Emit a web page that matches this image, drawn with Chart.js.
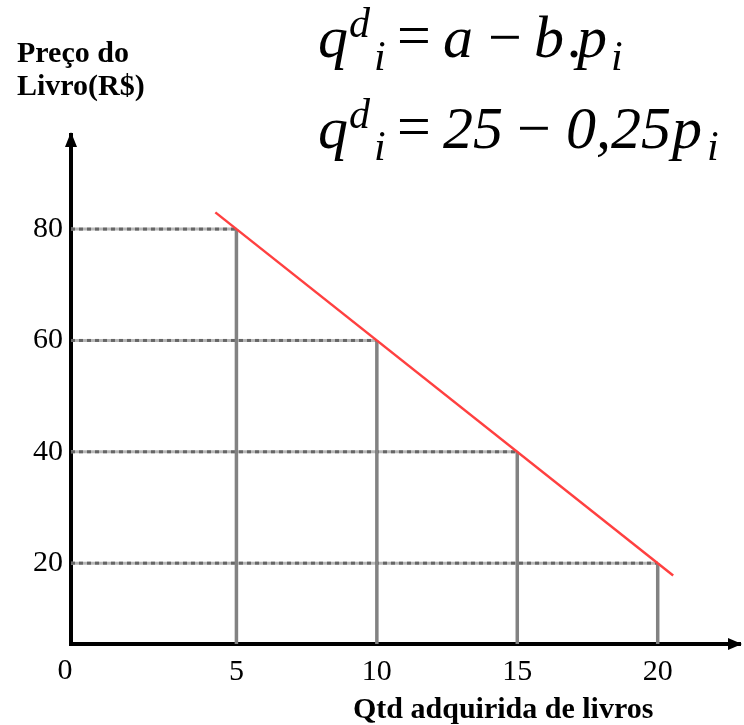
<!DOCTYPE html>
<html>
<head>
<meta charset="utf-8">
<script src="https://cdn.jsdelivr.net/npm/chart.js@4.4.1/dist/chart.umd.min.js"></script>
<style>
  html, body { margin: 0; padding: 0; background: #fff; }
  canvas { display: block; }
</style>
</head>
<body>
<canvas id="demanda" width="744" height="725"></canvas>
<script>
// Dados
const qtd = [5, 10, 15, 20];          // quantidade adquirida
const preco = [80, 60, 40, 20];       // preço do livro (R$)
const demandaQ = [4.25, 20.55];       // extremos da reta de demanda
const demandaP = [83, 17.8];
const xTicks = [5, 10, 15, 20];
const yTicks = [20, 40, 60, 80];

// limites dos eixos (a origem desenhada não coincide com zero)
const xMin = -0.89, xMax = 22.93;
const yMin = 5.48, yMax = 96.9;

const SERIF = '"Liberation Serif", "Times New Roman", serif';

// linhas de chamada: verticais até o eixo x, tracejadas até o eixo y
const verticais = qtd.map((q, i) => ({
    data: [{ x: q, y: yMin }, { x: q, y: preco[i] }],
    borderColor: '#828282',
    borderWidth: 3.5
}));
const horizFundo = qtd.map((q, i) => ({
    data: [{ x: xMin, y: preco[i] }, { x: q, y: preco[i] }],
    borderColor: '#b8b8b8',
    borderWidth: 3
}));
const horizTraco = qtd.map((q, i) => ({
    data: [{ x: xMin, y: preco[i] }, { x: q, y: preco[i] }],
    borderColor: '#666666',
    borderWidth: 3,
    borderDash: [4, 4]
}));

const reta = {
    data: demandaQ.map((q, i) => ({ x: q, y: demandaP[i] })),
    borderColor: 'rgb(255, 64, 64)',
    borderWidth: 2.5
};

// textos: equações, títulos dos eixos, setas
const textos = {
    id: 'textos',
    afterDraw(chart) {
        const ctx = chart.ctx;
        const area = chart.chartArea;
        ctx.save();
        ctx.fillStyle = '#000';
        ctx.textAlign = 'left';
        ctx.textBaseline = 'alphabetic';

        // setas dos eixos
        ctx.beginPath();
        ctx.moveTo(area.left, area.top - 3);
        ctx.lineTo(area.left - 6, area.top + 12);
        ctx.lineTo(area.left + 6, area.top + 12);
        ctx.closePath();
        ctx.fill();
        ctx.beginPath();
        ctx.moveTo(area.right + 2, area.bottom);
        ctx.lineTo(area.right - 12, area.bottom - 6);
        ctx.lineTo(area.right - 12, area.bottom + 6);
        ctx.closePath();
        ctx.fill();

        // títulos
        ctx.font = 'bold 30px ' + SERIF;
        ctx.fillText('Preço do', 17, 62);
        ctx.fillText('Livro(R$)', 17, 95);
        ctx.fillText('Qtd adquirida de livros', 353, 718);

        // origem
        ctx.font = '30px ' + SERIF;
        ctx.textAlign = 'center';
        ctx.fillText('0', 65, 679);
        ctx.textAlign = 'left';

        // equações
        const linha = (base, partes) => {
            partes.forEach(([t, x, dy, size, reto]) => {
                ctx.font = (reto ? '' : 'italic ') + size + 'px ' + SERIF;
                ctx.fillText(t, x, base + dy);
            });
        };
        linha(57, [
            ['q', 318, 0, 60], ['d', 349, -20, 42], ['i', 374, 13, 42],
            ['=', 397, -2, 60, true], ['a', 443, 0, 60], ['\u2212', 488, 0, 60, true],
            ['b', 534, 0, 60], ['.', 568, 0, 60], ['p', 577, 0, 60], ['i', 611, 13, 42]
        ]);
        linha(148, [
            ['q', 318, 0, 60], ['d', 349, -20, 42], ['i', 374, 12, 42],
            ['=', 397, -2, 60, true], ['25', 443, 0, 60], ['\u2212', 517, 0, 60, true],
            ['0,25', 566, 0, 60], ['p', 672, 0, 60], ['i', 707, 12, 42]
        ]);
        ctx.restore();
    }
};

new Chart(document.getElementById('demanda'), {
    type: 'scatter',
    data: {
        datasets: [reta, ...verticais, ...horizTraco, ...horizFundo].map(d => Object.assign({
            showLine: true,
            pointRadius: 0,
            fill: false
        }, d))
    },
    options: {
        responsive: false,
        animation: false,
        layout: { padding: { top: 135, right: 4, left: 0, bottom: 0 } },
        plugins: {
            legend: { display: false },
            tooltip: { enabled: false }
        },
        scales: {
            x: {
                type: 'linear',
                min: xMin,
                max: xMax,
                z: 1,
                grid: { display: false, drawTicks: false, tickLength: 0 },
                border: { display: true, color: '#000', width: 4 },
                ticks: {
                    padding: 10,
                    color: '#000',
                    font: { family: SERIF, size: 30 }
                },
                afterBuildTicks: s => { s.ticks = xTicks.map(v => ({ value: v })); },
                afterFit: s => { s.height = 81; }
            },
            y: {
                type: 'linear',
                min: yMin,
                max: yMax,
                z: 1,
                grid: { display: false, drawTicks: false, tickLength: 0 },
                border: { display: true, color: '#000', width: 4 },
                ticks: {
                    padding: 8,
                    color: '#000',
                    font: { family: SERIF, size: 30 }
                },
                afterBuildTicks: s => { s.ticks = yTicks.map(v => ({ value: v })); },
                afterFit: s => { s.width = 71; }
            }
        }
    },
    plugins: [textos]
});
</script>
</body>
</html>
